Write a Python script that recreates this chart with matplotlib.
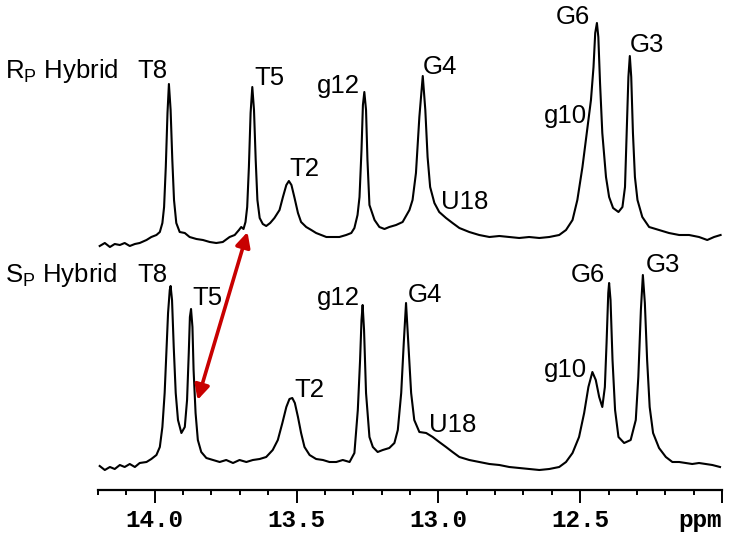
import matplotlib
matplotlib.use("Agg")
import matplotlib.pyplot as plt
import numpy as np

# ---- traced spectrum data (ppm, intensity in arbitrary units) ----
rp_ppm = [14.194, 14.176, 14.158, 14.141, 14.123, 14.106, 14.088, 14.070, 14.053, 14.029,
          14.012, 13.994, 13.982, 13.973, 13.967, 13.961, 13.955, 13.950, 13.944, 13.938,
          13.932, 13.924, 13.912, 13.894, 13.877, 13.853, 13.830, 13.806, 13.783, 13.760,
          13.736, 13.718, 13.703, 13.695, 13.687, 13.680, 13.674, 13.668, 13.662, 13.656,
          13.650, 13.644, 13.638, 13.630, 13.619, 13.607, 13.593, 13.578, 13.560, 13.548,
          13.536, 13.527, 13.518, 13.507, 13.495, 13.484, 13.466, 13.448, 13.431, 13.413,
          13.395, 13.372, 13.349, 13.325, 13.307, 13.296, 13.285, 13.278, 13.271, 13.266,
          13.261, 13.255, 13.250, 13.243, 13.225, 13.208, 13.190, 13.173, 13.149, 13.126,
          13.102, 13.091, 13.079, 13.067, 13.055, 13.046, 13.038, 13.029, 13.014, 12.997,
          12.973, 12.950, 12.926, 12.891, 12.856, 12.820, 12.785, 12.750, 12.715, 12.680,
          12.644, 12.609, 12.574, 12.550, 12.527, 12.510, 12.492, 12.474, 12.462, 12.453,
          12.447, 12.441, 12.436, 12.430, 12.422, 12.409, 12.398, 12.384, 12.365, 12.351,
          12.342, 12.336, 12.330, 12.325, 12.320, 12.314, 12.307, 12.298, 12.281, 12.257,
          12.222, 12.187, 12.151, 12.116, 12.081, 12.052, 12.028, 12.005]
rp_int = [-1, 2, -2, 1, 0, 2, -1, 1, 2, 5,
          8, 10, 13, 22, 38, 78, 132, 161, 135, 85,
          45, 22, 13, 12, 8, 6, 5, 3, 2, 3,
          8, 10, 15, 18, 16, 23, 38, 78, 132, 158,
          135, 85, 45, 27, 21, 19, 22, 27, 35, 48,
          60, 64, 60, 47, 32, 23, 18, 15, 12, 10,
          8, 8, 8, 10, 12, 17, 30, 48, 95, 140,
          153, 135, 85, 40, 25, 18, 16, 18, 20, 23,
          35, 45, 72, 128, 169, 135, 88, 58, 42, 33,
          27, 22, 17, 13, 10, 8, 9, 8, 7, 8,
          7, 8, 10, 15, 25, 45, 78, 118, 145, 178,
          212, 222, 208, 162, 112, 68, 48, 37, 33, 38,
          58, 112, 168, 189, 168, 112, 68, 45, 28, 18,
          15, 12, 10, 10, 8, 5, 8, 10]

sp_ppm = [14.194, 14.176, 14.158, 14.141, 14.123, 14.106, 14.088, 14.070, 14.053, 14.029,
          14.012, 13.994, 13.982, 13.973, 13.965, 13.959, 13.953, 13.947, 13.944, 13.939,
          13.933, 13.926, 13.918, 13.906, 13.894, 13.886, 13.880, 13.876, 13.872, 13.867,
          13.863, 13.856, 13.848, 13.836, 13.818, 13.795, 13.771, 13.748, 13.724, 13.701,
          13.677, 13.654, 13.630, 13.607, 13.584, 13.566, 13.550, 13.536, 13.525, 13.515,
          13.506, 13.495, 13.484, 13.472, 13.454, 13.431, 13.407, 13.384, 13.360, 13.337,
          13.313, 13.296, 13.284, 13.276, 13.271, 13.267, 13.262, 13.255, 13.243, 13.231,
          13.214, 13.196, 13.173, 13.155, 13.143, 13.131, 13.122, 13.114, 13.106, 13.096,
          13.085, 13.067, 13.043, 13.020, 12.997, 12.973, 12.950, 12.926, 12.891, 12.856,
          12.820, 12.785, 12.750, 12.715, 12.680, 12.644, 12.609, 12.574, 12.550, 12.527,
          12.504, 12.486, 12.471, 12.457, 12.445, 12.433, 12.422, 12.413, 12.407, 12.401,
          12.398, 12.393, 12.386, 12.377, 12.365, 12.345, 12.322, 12.304, 12.295, 12.286,
          12.279, 12.272, 12.264, 12.255, 12.243, 12.222, 12.198, 12.175, 12.151, 12.128,
          12.105, 12.081, 12.057, 12.034, 12.007]
sp_int = [4, 0, 3, 1, 5, 3, 6, 3, 7, 8,
          11, 15, 23, 43, 77, 117, 157, 180, 184, 170,
          123, 77, 50, 37, 43, 70, 117, 153, 161, 143,
          100, 57, 30, 18, 12, 10, 8, 10, 7, 10,
          8, 10, 11, 13, 20, 30, 47, 63, 71, 72,
          67, 53, 37, 23, 15, 11, 10, 8, 8, 10,
          8, 17, 60, 110, 150, 165, 140, 77, 33, 23,
          18, 20, 22, 27, 40, 77, 127, 167, 127, 77,
          50, 38, 37, 33, 28, 23, 18, 13, 10, 8,
          6, 5, 3, 2, 1, 0, 1, 3, 8, 17,
          33, 57, 83, 98, 90, 73, 63, 83, 127, 177,
          187, 170, 110, 60, 33, 27, 30, 50, 93, 160,
          195, 167, 110, 63, 37, 22, 13, 8, 8, 7,
          6, 7, 6, 5, 3]

rp_offset = 225

# labels: (text, ppm, height)
rp_labels = [("T8", 14.060, 392), ("T5", 13.648, 385), ("g12", 13.430, 377),
             ("T2", 13.525, 294), ("G4", 13.056, 396), ("U18", 12.989, 261),
             ("g10", 12.627, 347), ("G6", 12.585, 446), ("G3", 12.327, 418)]
sp_labels = [("T8", 14.060, 188), ("T5", 13.866, 165), ("g12", 13.430, 165),
             ("T2", 13.507, 73), ("G4", 13.109, 168), ("U18", 13.032, 38),
             ("g10", 12.627, 93), ("G6", 12.532, 188), ("G3", 12.268, 198)]
titles = [(r"$\mathregular{R_P}$ Hybrid", 14.528, 392),
          (r"$\mathregular{S_P}$ Hybrid", 14.528, 188)]

major_ticks = [14.0, 13.5, 13.0, 12.5, 12.0]
major_labels = ["14.0", "13.5", "13.0", "12.5", ""]

plt.rcParams['font.family'] = ['Liberation Sans', 'DejaVu Sans']

fig = plt.figure(figsize=(7.29, 5.37), dpi=100)
ax = fig.add_axes([98 / 729, 47 / 537, 624 / 729, 490 / 537])

ax.plot(rp_ppm, np.array(rp_int) + rp_offset, color='black', lw=1.5)
ax.plot(sp_ppm, sp_int, color='black', lw=1.5)

ax.set_xlim(14.2, 12.0)
ax.set_ylim(-20, 470)

for s in ['top', 'left', 'right']:
    ax.spines[s].set_visible(False)
ax.spines['bottom'].set_linewidth(1.6)
ax.set_yticks([])
ax.set_xticks(major_ticks)
ax.set_xticklabels(major_labels, fontfamily='Liberation Mono', fontweight='bold', fontsize=17.5)
ax.set_xticks(np.round(np.arange(12.0, 14.21, 0.1), 2), minor=True)
ax.tick_params(axis='x', which='major', direction='out', length=9, width=1.4, pad=5)
ax.tick_params(axis='x', which='minor', direction='out', length=3.5, width=1.4)

ax.text(12.0, -50, "ppm", ha='right', va='center', fontfamily='Liberation Mono',
        fontweight='bold', fontsize=17.5, clip_on=False)

fs = 18.5
for t, x, y in rp_labels + sp_labels:
    ax.text(x, y, t, ha='left', va='baseline', fontsize=fs, clip_on=False)
for t, x, y in titles:
    ax.text(x, y, t, ha='left', va='baseline', fontsize=fs, clip_on=False)

ax.annotate('', xy=(13.849, 70), xytext=(13.673, 238),
            arrowprops=dict(arrowstyle='<|-|>', color='#c80000', lw=2.6,
                            mutation_scale=22, shrinkA=0, shrinkB=0))

fig.savefig('out.png', dpi=100)
